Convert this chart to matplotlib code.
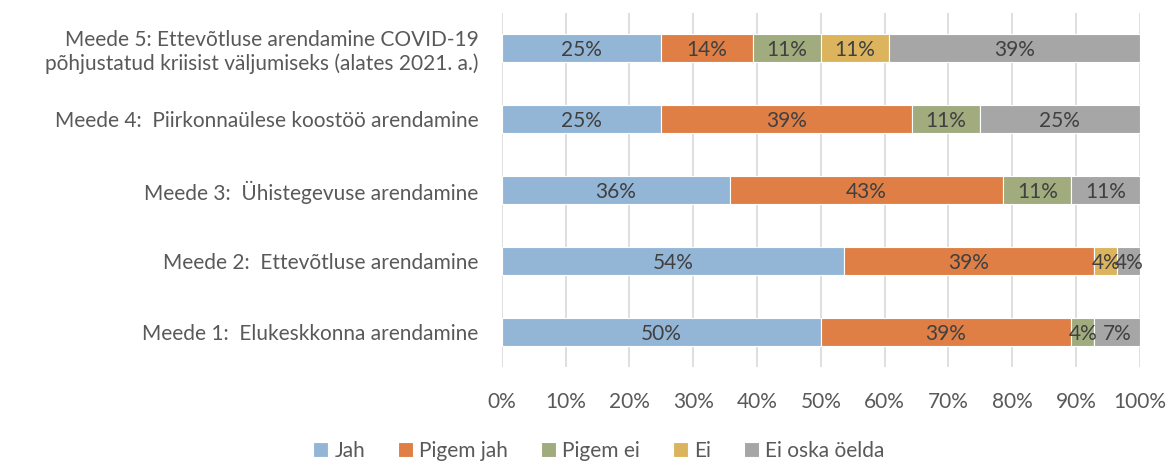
import matplotlib
matplotlib.use('Agg')
import matplotlib.pyplot as plt
import numpy as np

plt.rcParams['font.family'] = ['Lato', 'DejaVu Sans']

categories = ["Meede 1:  Elukeskkonna arendamine",
              "Meede 2:  Ettevõtluse arendamine",
              "Meede 3:  Ühistegevuse arendamine",
              "Meede 4:  Piirkonnaülese koostöö arendamine",
              "Meede 5: Ettevõtluse arendamine COVID-19\npõhjustatud kriisist väljumiseks (alates 2021. a.)"]
series = ["Jah", "Pigem jah", "Pigem ei", "Ei", "Ei oska öelda"]
jah = [50.0, 53.6, 35.7, 25.0, 25.0]
pigem_jah = [39.3, 39.3, 42.9, 39.3, 14.3]
pigem_ei = [3.6, 0.0, 10.7, 10.7, 10.7]
ei = [0.0, 3.6, 0.0, 0.0, 10.7]
ei_oska = [7.1, 3.6, 10.7, 25.0, 39.3]
colors = ["#94B6D6", "#DF7F46", "#A0AB7E", "#DCB45E", "#A6A6A6"]

fig, ax = plt.subplots(figsize=(11.7, 4.65), dpi=100)
fig.subplots_adjust(left=0.429, right=0.974, top=0.973, bottom=0.21)

y = np.arange(len(categories))
left = np.zeros(len(categories))
for name, vals, col in zip(series, [jah, pigem_jah, pigem_ei, ei, ei_oska], colors):
    vals = np.array(vals)
    bars = ax.barh(y, vals, left=left, height=0.4, color=col, edgecolor='white',
                   linewidth=0.8, label=name, zorder=2)
    for b, v, l in zip(bars, vals, left):
        if v > 0:
            ax.text(l + v / 2, b.get_y() + b.get_height() / 2 - 0.03, "%d%%" % round(v),
                    ha='center', va='center', fontsize=15, color='#404040', zorder=3)
    left += vals

ax.set_xlim(0, 100)
ax.set_ylim(-0.5, 4.5)
ax.set_xticks(np.arange(0, 101, 10))
ax.set_xticklabels(["%d%%" % t for t in range(0, 101, 10)])
ax.set_yticks(y)
ax.set_yticklabels(categories)
ax.tick_params(axis='both', length=0, labelsize=15, colors='#595959')
ax.tick_params(axis='y', pad=17)
ax.tick_params(axis='x', pad=18)
ax.grid(axis='x', color='#D9D9D9', linewidth=1.2, zorder=0)
for s in ax.spines.values():
    s.set_visible(False)

fig.legend(loc='center', bbox_to_anchor=(0.512, 0.03), ncol=5, frameon=False,
           fontsize=15, handlelength=0.7, handleheight=0.7, handletextpad=0.3,
           columnspacing=1.6, labelcolor='#595959')

plt.savefig("out.png", dpi=100)
